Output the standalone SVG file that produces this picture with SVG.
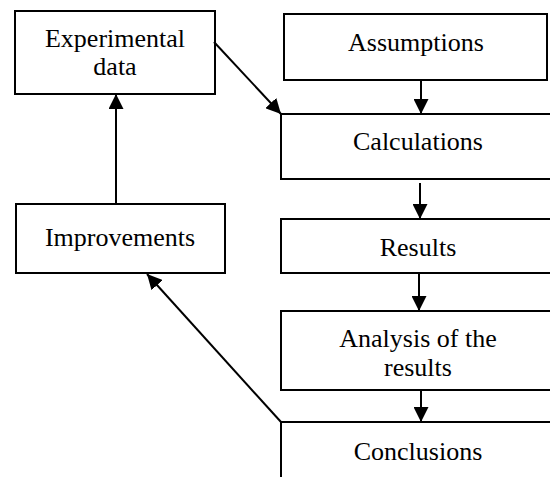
<svg xmlns="http://www.w3.org/2000/svg" width="550" height="477" viewBox="0 0 550 477">
  <style>
    .box { fill: #fff; stroke: #000; stroke-width: 2; }
    .lbl { font-family: "Liberation Serif", "Times New Roman", serif; font-size: 26px; fill: #000; text-anchor: middle; }
    .conn { stroke: #000; stroke-width: 2; fill: none; marker-end: url(#arr); }
  </style>
  <defs>
    <marker id="arr" markerUnits="userSpaceOnUse" markerWidth="15" markerHeight="15" refX="15" refY="7.5" orient="auto">
      <path d="M0,0 L15,7.5 L0,15 z" fill="#000"/>
    </marker>
  </defs>
  <rect width="550" height="477" fill="#fff"/>
  <g id="experimental">
    <rect class="box" x="15" y="11" width="200" height="83"/>
    <text class="lbl" x="115" y="47">Experimental</text>
    <text class="lbl" x="115" y="75">data</text>
  </g>
  <g id="improvements">
    <rect class="box" x="16" y="204" width="209" height="69"/>
    <text class="lbl" x="120" y="246">Improvements</text>
  </g>
  <g id="assumptions">
    <rect class="box" x="284" y="14" width="263" height="66"/>
    <text class="lbl" x="416" y="51">Assumptions</text>
  </g>
  <g id="calculations">
    <rect class="box" x="281" y="114" width="280" height="65"/>
    <text class="lbl" x="418" y="150">Calculations</text>
  </g>
  <g id="results">
    <rect class="box" x="281" y="219" width="280" height="54"/>
    <text class="lbl" x="418" y="256">Results</text>
  </g>
  <g id="analysis">
    <rect class="box" x="281" y="311" width="280" height="79"/>
    <text class="lbl" x="418" y="347">Analysis of the</text>
    <text class="lbl" x="418" y="376">results</text>
  </g>
  <g id="conclusions">
    <rect class="box" x="281" y="422" width="280" height="80"/>
    <text class="lbl" x="418" y="460">Conclusions</text>
  </g>
  <g id="connectors">
    <line class="conn" x1="421" y1="80" x2="421" y2="114"/>
    <line class="conn" x1="420" y1="183" x2="420" y2="219"/>
    <line class="conn" x1="419" y1="273" x2="419" y2="311"/>
    <line class="conn" x1="421" y1="390" x2="421" y2="422"/>
    <line class="conn" x1="116" y1="204" x2="116" y2="94"/>
    <line class="conn" x1="214" y1="42" x2="281" y2="114"/>
    <line class="conn" x1="281" y1="422" x2="147" y2="274"/>
  </g>
</svg>
